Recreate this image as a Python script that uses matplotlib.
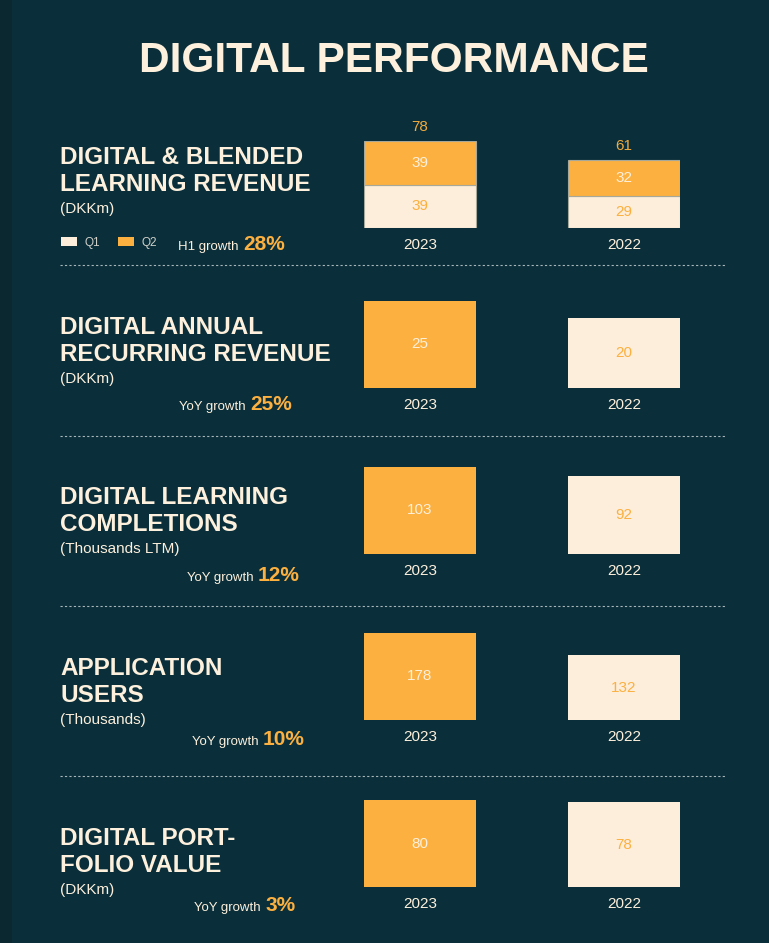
import matplotlib.pyplot as plt
from matplotlib.patches import Patch, Rectangle

# Данные
years = ["2023", "2022"]
rev_q1 = [39, 29]
rev_q2 = [39, 32]
arr_values = [25, 20]
completions = [103, 92]
app_users = [178, 132]
portfolio = [80, 78]

titles = ["DIGITAL & BLENDED\nLEARNING REVENUE", "DIGITAL ANNUAL\nRECURRING REVENUE",
          "DIGITAL LEARNING\nCOMPLETIONS", "APPLICATION\nUSERS", "DIGITAL PORT-\nFOLIO VALUE"]
units = ["(DKKm)", "(DKKm)", "(Thousands LTM)", "(Thousands)", "(DKKm)"]
growth_labels = ["H1 growth", "YoY growth", "YoY growth", "YoY growth", "YoY growth"]
growth_values = ["28%", "25%", "12%", "10%", "3%"]

# Цвета
BG = "#0a2f3b"
ORANGE = "#fbb040"
CREAM = "#fdeedb"
TEXT = "#fdf0dc"
GOLD = "#f0aa3e"

W, H = 769, 943
plt.rcParams['font.family'] = ['Liberation Sans', 'DejaVu Sans']

fig = plt.figure(figsize=(W / 100, H / 100), dpi=100, facecolor=BG)
fig.patches.append(Rectangle((0, 0), 12 / W, 1, transform=fig.transFigure,
                             facecolor="#0b2830", edgecolor="none", zorder=0))


def fx(px):
    return px / W


def fy(py):
    return 1 - py / H


fig.text(fx(394), fy(61), "DIGITAL PERFORMANCE", ha="center", va="center",
         fontsize=30.5, fontweight="bold", color=TEXT)

# Положение секций (пиксели)
bar_bottoms = [228, 388, 554, 720, 887]
title_y = [171, 341, 511, 682, 852]
unit_y = [209, 379, 549, 720, 890]
growth_base = [250, 410, 581, 745, 911]
growth_x = [243, 250, 258, 263, 265]
sep_y = [265, 436, 606, 776]

bar_w = 112 / 204
ax_left, ax_width = 364, 316
bar_h = 87

series = [None, arr_values, completions, app_users, portfolio]

for i in range(5):
    ax = fig.add_axes([fx(ax_left), fy(bar_bottoms[i]), fx(ax_width), bar_h / H])
    ax.set_facecolor("none")
    ax.set_xlim(-bar_w / 2, 1 + bar_w / 2)
    if i == 0:
        totals = [a + b for a, b in zip(rev_q1, rev_q2)]
        ax.set_ylim(0, max(totals))
        ax.bar([0, 1], rev_q1, width=bar_w, color=CREAM, edgecolor="#a7a79a", linewidth=0.8)
        ax.bar([0, 1], rev_q2, bottom=rev_q1, width=bar_w, color=ORANGE,
               edgecolor="#a7a79a", linewidth=0.8)
        for x, (a, b) in enumerate(zip(rev_q1, rev_q2)):
            ax.text(x, a / 2, str(a), ha="center", va="center", fontsize=11, color=ORANGE)
            ax.text(x, a + b / 2, str(b), ha="center", va="center", fontsize=11, color=TEXT)
            ax.annotate(str(a + b), (x, a + b), xytext=(0, 10), textcoords="offset points",
                        ha="center", va="center", fontsize=11, color=GOLD, annotation_clip=False)
    else:
        vals = series[i]
        ax.set_ylim(0, max(vals))
        ax.bar([0, 1], vals, width=bar_w, color=[ORANGE, CREAM])
        for x, v in enumerate(vals):
            ax.text(x, v / 2, str(v), ha="center", va="center", fontsize=11,
                    color=TEXT if x == 0 else ORANGE)
    ax.set_xticks([0, 1], labels=years)
    ax.tick_params(axis="x", length=0, pad=7, labelsize=11, labelcolor=TEXT)
    ax.set_yticks([])
    for s in ax.spines.values():
        s.set_visible(False)

    # Левая часть: заголовок, единицы, рост
    fig.text(fx(60), fy(title_y[i]), titles[i], ha="left", va="center", fontsize=17.5,
             fontweight="bold", color=TEXT, linespacing=1.2)
    fig.text(fx(60), fy(unit_y[i]), units[i], ha="left", va="center", fontsize=11, color=TEXT)
    fig.text(fx(growth_x[i] - 4), fy(growth_base[i]), growth_labels[i], ha="right",
             va="baseline", fontsize=9.5, color=TEXT)
    fig.text(fx(growth_x[i]), fy(growth_base[i]), growth_values[i], ha="left",
             va="baseline", fontsize=15, fontweight="bold", color=ORANGE)

# Легенда
handles = [Patch(facecolor=CREAM), Patch(facecolor=ORANGE)]
fig.legend(handles, ["Q1", "Q2"], ncol=2, loc="center left",
           bbox_to_anchor=(fx(50), fy(243)), frameon=False, fontsize=8.5,
           labelcolor="#d0d0c8", handlelength=1.4, handleheight=0.8,
           handletextpad=0.6, columnspacing=1.5)

# Разделители
for y in sep_y:
    fig.add_artist(plt.Line2D([fx(60), fx(725)], [fy(y), fy(y)], transform=fig.transFigure,
                              color="#a9b6b8", linestyle=(0, (2, 2)), linewidth=0.8))

plt.savefig("out.png", dpi=100, facecolor=BG)
